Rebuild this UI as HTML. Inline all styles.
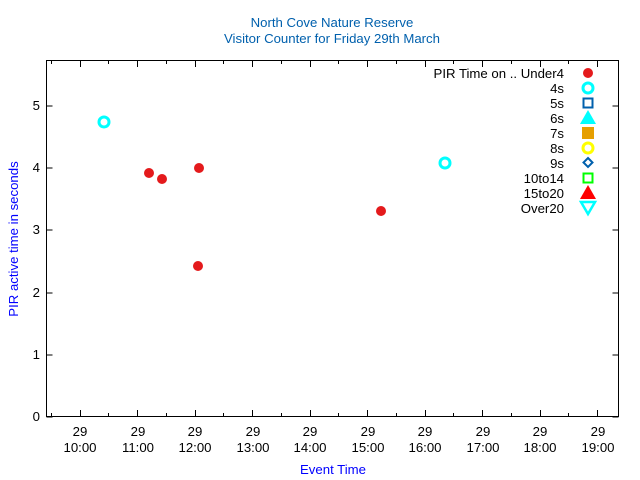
<!DOCTYPE html>
<html><head><style>body{margin:0;background:#fff}svg{display:block}text{font-family:"Liberation Sans",sans-serif;font-size:13.2px}</style></head><body>
<svg width="640" height="480" xmlns="http://www.w3.org/2000/svg">
<rect width="640" height="480" fill="#fff"/>
<text x="332" y="27" text-anchor="middle" fill="#0060ad">North Cove Nature Reserve</text>
<text x="332" y="43" text-anchor="middle" fill="#0060ad">Visitor Counter for Friday 29th March</text>
<rect x="46.5" y="60.5" width="572" height="356" fill="none" stroke="#000" stroke-width="1"/>
<g stroke="#000" stroke-width="1">
<path d="M46.5 417h6M46.5 355h6M46.5 293h6M46.5 230h6M46.5 168h6M46.5 106h6M618.5 417h-6M618.5 355h-6M618.5 293h-6M618.5 230h-6M618.5 168h-6M618.5 106h-6"/>
<path d="M80.5 416v-6M137.5 416v-6M195.5 416v-6M252.5 416v-6M310.5 416v-6M367.5 416v-6M425.5 416v-6M482.5 416v-6M540.5 416v-6M597.5 416v-6M80.5 61v6M137.5 61v6M195.5 61v6M252.5 61v6M310.5 61v6M367.5 61v6M425.5 61v6M482.5 61v6M540.5 61v6M597.5 61v6"/>
<path d="M51.5 416v-3M108.5 416v-3M166.5 416v-3M223.5 416v-3M281.5 416v-3M338.5 416v-3M396.5 416v-3M453.5 416v-3M511.5 416v-3M568.5 416v-3M51.5 61v3M108.5 61v3M166.5 61v3M223.5 61v3M281.5 61v3M338.5 61v3M396.5 61v3M453.5 61v3M511.5 61v3M568.5 61v3"/>
</g>
<g text-anchor="end">
<text x="40" y="421">0</text><text x="40" y="359">1</text><text x="40" y="297">2</text><text x="40" y="234">3</text><text x="40" y="172">4</text><text x="40" y="110">5</text>
</g>
<g text-anchor="middle">
<text x="80" y="436">29</text><text x="80" y="452">10:00</text>
<text x="138" y="436">29</text><text x="138" y="452">11:00</text>
<text x="195" y="436">29</text><text x="195" y="452">12:00</text>
<text x="253" y="436">29</text><text x="253" y="452">13:00</text>
<text x="310" y="436">29</text><text x="310" y="452">14:00</text>
<text x="368" y="436">29</text><text x="368" y="452">15:00</text>
<text x="425" y="436">29</text><text x="425" y="452">16:00</text>
<text x="483" y="436">29</text><text x="483" y="452">17:00</text>
<text x="540" y="436">29</text><text x="540" y="452">18:00</text>
<text x="598" y="436">29</text><text x="598" y="452">19:00</text>
</g>
<text x="333" y="474" text-anchor="middle" fill="#0000ff">Event Time</text>
<text transform="translate(18,239) rotate(-90)" text-anchor="middle" fill="#0000ff">PIR active time in seconds</text>
<g fill="#e41a1c">
<circle cx="149" cy="173" r="5"/><circle cx="162" cy="179" r="5"/><circle cx="199" cy="168" r="5"/><circle cx="198" cy="266" r="5"/><circle cx="381" cy="211" r="5"/>
</g>
<g fill="none" stroke="#00ffff" stroke-width="3">
<circle cx="104" cy="122" r="5"/><circle cx="445" cy="163" r="5"/>
</g>
<g text-anchor="end">
<text x="564" y="78">PIR Time on .. Under4</text>
<text x="564" y="93">4s</text><text x="564" y="108">5s</text><text x="564" y="123">6s</text><text x="564" y="138">7s</text><text x="564" y="153">8s</text><text x="564" y="168">9s</text><text x="564" y="183">10to14</text><text x="564" y="198">15to20</text><text x="564" y="213">Over20</text>
</g>
<circle cx="588" cy="73" r="5" fill="#e41a1c"/>
<circle cx="588" cy="88" r="5" fill="none" stroke="#00ffff" stroke-width="3"/>
<rect x="583.5" y="98.5" width="9" height="9" fill="none" stroke="#0060ad" stroke-width="2"/>
<path d="M588 110l8 14h-16z" fill="#00ffff"/>
<rect x="582" y="127" width="12" height="12" fill="#e69f00"/>
<circle cx="588" cy="148" r="5" fill="none" stroke="#ffff00" stroke-width="3"/>
<path d="M588 158l4.5 4.5-4.5 4.5-4.5-4.5z" fill="none" stroke="#0060ad" stroke-width="2"/>
<rect x="583.5" y="173.5" width="9" height="9" fill="none" stroke="#00ff00" stroke-width="2"/>
<path d="M588 185l8 14h-16z" fill="#ff0000"/>
<path d="M581 202h14l-7 12z" fill="none" stroke="#00ffff" stroke-width="2.5"/>
</svg>
</body></html>
